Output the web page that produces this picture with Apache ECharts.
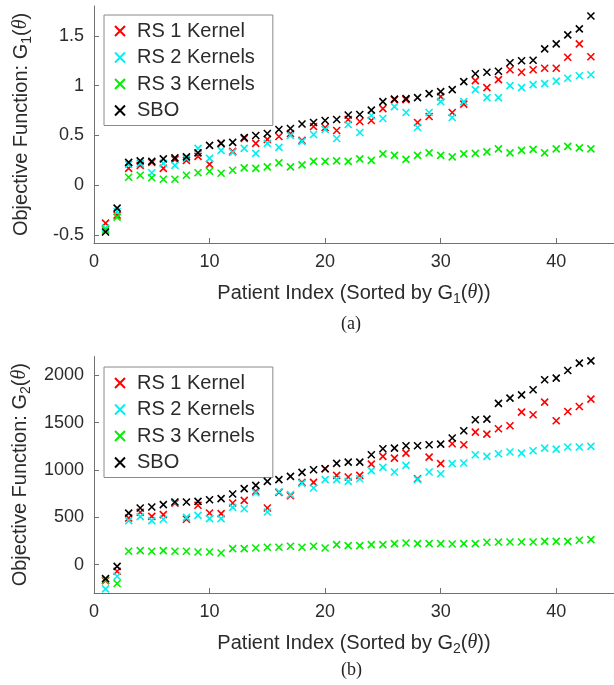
<!DOCTYPE html>
<html><head><meta charset="utf-8">
<script src="https://cdn.jsdelivr.net/npm/echarts@6/dist/echarts.min.js"></script>
<style>html,body{margin:0;padding:0;background:#fff}#c{width:614px;height:685px}</style>
</head><body><div id="c"></div>
<script>
const patientIndex = [1,2,3,4,5,6,7,8,9,10,11,12,13,14,15,16,17,18,19,20,21,22,23,24,25,26,27,28,29,30,31,32,33,34,35,36,37,38,39,40,41,42,43];
const xTicks = [0,10,20,30,40];
const g1Ticks = [-0.5,0,0.5,1,1.5];
const g2Ticks = [0,500,1000,1500,2000];
const seriesNames = ['RS 1 Kernel','RS 2 Kernels','RS 3 Kernels','SBO'];

const g1RS1 = [-0.38,-0.30,0.17,0.20,0.23,0.17,0.26,0.25,0.29,0.21,0.42,0.34,0.47,0.42,0.46,0.49,0.52,0.45,0.59,0.58,0.55,0.66,0.64,0.65,0.77,0.86,0.86,0.63,0.69,0.89,0.73,0.815,1.05,0.98,1.06,1.16,1.135,1.16,1.175,1.175,1.285,1.42,1.29];
const g1RS2 = [-0.43,-0.265,0.21,0.22,0.125,0.22,0.20,0.27,0.37,0.27,0.35,0.33,0.37,0.32,0.42,0.38,0.50,0.44,0.51,0.56,0.47,0.61,0.53,0.70,0.67,0.79,0.73,0.58,0.73,0.84,0.68,0.84,0.96,0.88,0.88,1.00,0.98,1.01,1.02,1.045,1.075,1.10,1.11];
const g1RS3 = [-0.45,-0.32,0.08,0.10,0.075,0.06,0.06,0.10,0.125,0.14,0.12,0.15,0.175,0.17,0.185,0.225,0.185,0.205,0.24,0.24,0.245,0.24,0.265,0.25,0.315,0.30,0.26,0.30,0.325,0.30,0.285,0.315,0.32,0.335,0.365,0.325,0.35,0.36,0.325,0.365,0.39,0.375,0.365];
const g1SBO = [-0.47,-0.23,0.23,0.245,0.24,0.265,0.275,0.285,0.325,0.40,0.42,0.43,0.48,0.50,0.52,0.56,0.57,0.615,0.63,0.65,0.66,0.705,0.71,0.755,0.84,0.865,0.87,0.88,0.92,0.94,0.96,1.04,1.12,1.135,1.145,1.23,1.25,1.255,1.37,1.42,1.51,1.57,1.70];

const g2RS1 = [-169,-70,493,553,510,528,650,479,627,546,539,651,679,774,598,764,729,869,869,1014,943,926,943,1063,1144,1126,1179,908,1137,1067,1278,1267,1401,1380,1436,1468,1612,1584,1718,1521,1619,1672,1749];
const g2RS2 = [-257,-123,465,507,465,479,658,500,521,486,486,605,591,760,556,770,740,860,810,898,898,880,908,993,1028,979,1049,900,979,961,1067,1074,1162,1144,1172,1190,1179,1204,1232,1221,1243,1243,1250];
const g2RS3 = [-165,-200,141,148,141,148,141,141,134,134,123,169,169,176,183,183,194,183,194,176,211,201,201,211,211,222,229,222,222,222,218,222,222,236,239,239,239,239,246,246,246,257,264];
const g2SBO = [-148,-18,545,598,609,634,662,662,669,686,697,746,803,838,880,898,933,975,1003,1014,1070,1084,1084,1162,1225,1232,1257,1257,1267,1274,1338,1415,1531,1538,1704,1760,1795,1848,1954,1971,2052,2130,2154];

const colors = ['#ff0000', '#00f0f0', '#00ee00', '#000000'];
const crossPath = 'path://M0,0L10,10M10,0L0,10';
const axisColor = '#707070';
const textColor = '#2b2b2b';
const sans = 'Liberation Sans';

function mkSeries(arrs, gi) {
  return arrs.map((arr, k) => ({
    type: 'scatter', name: seriesNames[k], xAxisIndex: gi, yAxisIndex: gi,
    symbol: crossPath, symbolSize: 7, symbolKeepAspect: true,
    itemStyle: { color: colors[k], borderColor: colors[k], borderWidth: 1.6, opacity: 1 },
    emphasis: { disabled: true },
    data: patientIndex.map((p, i) => [p, arr[i]]),
    z: 2 + k
  }));
}

function richStyles(fs) {
  return {
    t: { fontFamily: sans, fontSize: fs, color: textColor },
    s: { fontFamily: sans, fontSize: Math.round(fs * 0.72), color: textColor, padding: [12, 0, 0, 0] },
    th: { fontFamily: 'Liberation Serif', fontStyle: 'italic', fontSize: fs, color: textColor }
  };
}

function xAx(gi, sub) {
  return {
    type: 'value', gridIndex: gi, min: 0, max: 45,
    name: '{t|Patient Index (Sorted by G}{s|' + sub + '}{t|(}{th|θ}{t|))}',
    nameLocation: 'middle', nameGap: 37,
    nameTextStyle: { rich: richStyles(20) },
    axisLine: { show: true, onZero: false, lineStyle: { color: axisColor, width: 1 } },
    axisTick: { show: true, inside: true, length: 5, customValues: xTicks, lineStyle: { color: axisColor } },
    axisLabel: { customValues: xTicks, fontFamily: sans, fontSize: 18, color: textColor, margin: 10 },
    splitLine: { show: false }
  };
}
function yAx(gi, mn, mx, ticks, sub) {
  return {
    type: 'value', gridIndex: gi, min: mn, max: mx,
    name: '{t|Objective Function: G}{s|' + sub + '}{t|(}{th|θ}{t|)}',
    nameLocation: 'middle', nameRotate: 90, nameGap: 60,
    nameTextStyle: { rich: richStyles(20) },
    axisLine: { show: true, onZero: false, lineStyle: { color: axisColor, width: 1 } },
    axisTick: { show: true, inside: true, length: 5, customValues: ticks, lineStyle: { color: axisColor } },
    axisLabel: { customValues: ticks, fontFamily: sans, fontSize: 18, color: textColor, margin: 10,
      formatter: function (v) { return String(v); } },
    splitLine: { show: false }
  };
}

function legendAt(top) {
  return {
    orient: 'vertical', left: 104, top: top,
    data: seriesNames,
    itemWidth: 24, itemHeight: 10, itemGap: 6.5,
    padding: [6, 18, 5, 10],
    borderColor: '#8a8a8a', borderWidth: 1, backgroundColor: '#ffffff',
    selectedMode: false,
    icon: crossPath,
    itemStyle: { borderWidth: 2 },
    textStyle: { fontFamily: sans, fontSize: 20, color: textColor, lineHeight: 20 }
  };
}

const chart = echarts.init(document.getElementById('c'), null, { renderer: 'canvas' });
chart.setOption({
  animation: false,
  backgroundColor: '#ffffff',
  grid: [
    { left: 94, top: 6, width: 522, height: 237 },
    { left: 94, top: 356.5, width: 522, height: 236.5 }
  ],
  xAxis: [xAx(0, '1'), xAx(1, '2')],
  yAxis: [yAx(0, -0.58, 1.8, g1Ticks, '1'), yAx(1, -300, 2200, g2Ticks, '2')],
  legend: [legendAt(15), legendAt(367)],
  title: [
    { text: '(a)', left: 336, top: 310, textStyle: { fontFamily: 'Liberation Serif', fontSize: 18, fontWeight: 'normal', color: '#222' } },
    { text: '(b)', left: 336, top: 656, textStyle: { fontFamily: 'Liberation Serif', fontSize: 18, fontWeight: 'normal', color: '#222' } }
  ],
  series: [].concat(mkSeries([g1RS1, g1RS2, g1RS3, g1SBO], 0), mkSeries([g2RS1, g2RS2, g2RS3, g2SBO], 1))
});
</script></body></html>
